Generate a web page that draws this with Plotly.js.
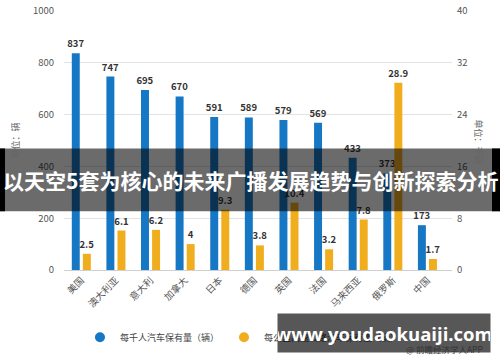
<!DOCTYPE html>
<html><head><meta charset="utf-8">
<script src="https://cdn.plot.ly/plotly-3.0.1.min.js"></script>
<style>html,body{margin:0;padding:0;background:#fff}#c{width:500px;height:362px}</style>
</head><body><div id="c"></div>
<script>
const categories = ['美国','澳大利亚','意大利','加拿大','日本','德国','英国','法国','马来西亚','俄罗斯','中国'];
const carsPer1000 = [837,747,695,670,591,589,579,569,433,373,173];
const carsPerKm = [2.5,6.1,6.2,4,9.3,3.8,10.4,3.2,7.8,28.9,1.7];
const seriesNames = ['每千人汽车保有量（辆）','每公里高速公路汽车保有量（辆）'];
const leftTicks = [0,200,400,600,800,1000];
const rightTicks = [0,8,16,24,32,40];
const blue = '#1677c5', gold = '#f0ad1e';
const font = '"Noto Sans CJK SC", "Noto Sans", sans-serif';
const idx = categories.map((_, i) => i);
const labelFont = {family: font, size: 9.5, color: '#333', weight: 'bold'};
const traces = [
  {type:'bar', x: idx, y: carsPer1000, width: 0.23, offset: -0.275, marker:{color: blue},
   text: carsPer1000.map(String), textposition:'outside', textfont: labelFont, cliponaxis:false,
   constraintext:'none', showlegend:false, hoverinfo:'none'},
  {type:'bar', x: idx, y: carsPerKm, yaxis:'y2', width: 0.23, offset: 0.045, marker:{color: gold},
   text: carsPerKm.map(String), textposition:'outside', textfont: labelFont, cliponaxis:false,
   constraintext:'none', showlegend:false, hoverinfo:'none'},
  {type:'scatter', mode:'markers', x:[null], y:[null], name: seriesNames[0], marker:{color: blue, size: 10, symbol:'circle'}},
  {type:'scatter', mode:'markers', x:[null], y:[null], name: seriesNames[1], marker:{color: gold, size: 10, symbol:'circle'}}
];
const py = v => (271 - v) / 260;
const px = v => (v - 64) / 388;
const layout = {
  width: 500, height: 362,
  margin: {l: 64, r: 48, t: 11, b: 91},
  paper_bgcolor: '#fff', plot_bgcolor: '#fff',
  font: {family: font, color: '#555', size: 9},
  barmode: 'overlay',
  xaxis: {range: [-0.5, 10.71], tickvals: idx, ticktext: categories, tickangle: -45,
          showgrid: false, zeroline: false, showline: true, linecolor: '#cfcfcf', ticks: '',
          tickfont: {size: 9.5, color: '#555', family: font}, fixedrange: true},
  yaxis: {range: [0, 1000], tickvals: leftTicks, showgrid: true, gridcolor: '#e3e3e3', zeroline: false,
          tickfont: {size: 9.5, color: '#555', family: font}, ticklabelstandoff: 9},
  yaxis2: {range: [0, 40], tickvals: rightTicks, overlaying: 'y', side: 'right', showgrid: false, zeroline: false,
           tickfont: {size: 9.5, color: '#555', family: font}, ticklabelstandoff: 4},
  legend: {orientation: 'h', x: 0.46, xanchor: 'center', y: -0.255, yanchor: 'middle', bgcolor: 'rgba(0,0,0,0)',
           font: {size: 9, color: '#444', family: font}, itemwidth: 30, traceorder: 'normal'},
  shapes: [
    {type:'rect', xref:'paper', yref:'paper', x0:-0.2, x1:1.2, y0: py(212), y1: py(149),
     fillcolor:'rgba(0,0,0,0.58)', line:{width:0}, layer:'above'},
    {type:'rect', xref:'paper', yref:'paper', x0:-0.2, x1:px(5), y0: py(212), y1: py(149),
     fillcolor:'#000', line:{width:0}, layer:'above'},
    {type:'rect', xref:'paper', yref:'paper', x0:px(492), x1:1.2, y0: py(212), y1: py(149),
     fillcolor:'#000', line:{width:0}, layer:'above'}
  ],
  annotations: [
    {xref:'paper', yref:'paper', x:px(15), xanchor:'center', y:py(141), yanchor:'middle', text:'单位：辆', textangle:-90, showarrow:false,
     font:{size:9, color:'#666', family:font}},
    {xref:'paper', yref:'paper', x:px(479), xanchor:'center', y:py(142), yanchor:'middle', text:'单位：千辆', textangle:90, showarrow:false,
     font:{size:9, color:'#666', family:font}},
    {xref:'paper', yref:'paper', x:px(250), xanchor:'center', y:py(181), yanchor:'middle', text:'以天空5套为核心的未来广播发展趋势与创新探索分析', showarrow:false,
     font:{size:21, color:'#fff', family:font, weight:'bold'}},
    {xref:'paper', yref:'paper', x:px(384), xanchor:'center', y:py(334), yanchor:'middle', width:212, height:38, borderpad:0, bgcolor:'rgba(0,0,0,0.66)',
     text:'www.youdaokuaiji.com', showarrow:false,
     font:{size:18.5, color:'#fff', family:'"Open Sans", "DejaVu Sans", sans-serif', weight:'bold'}},
    {xref:'paper', yref:'paper', x:px(485), xanchor:'right', y:py(350), yanchor:'middle', text:'@ 前瞻经济学人APP', showarrow:false,
     font:{size:8.5, color:'#333', family:font}}
  ]
};
Plotly.newPlot('c', traces, layout, {displayModeBar:false, staticPlot:true});
</script></body></html>
